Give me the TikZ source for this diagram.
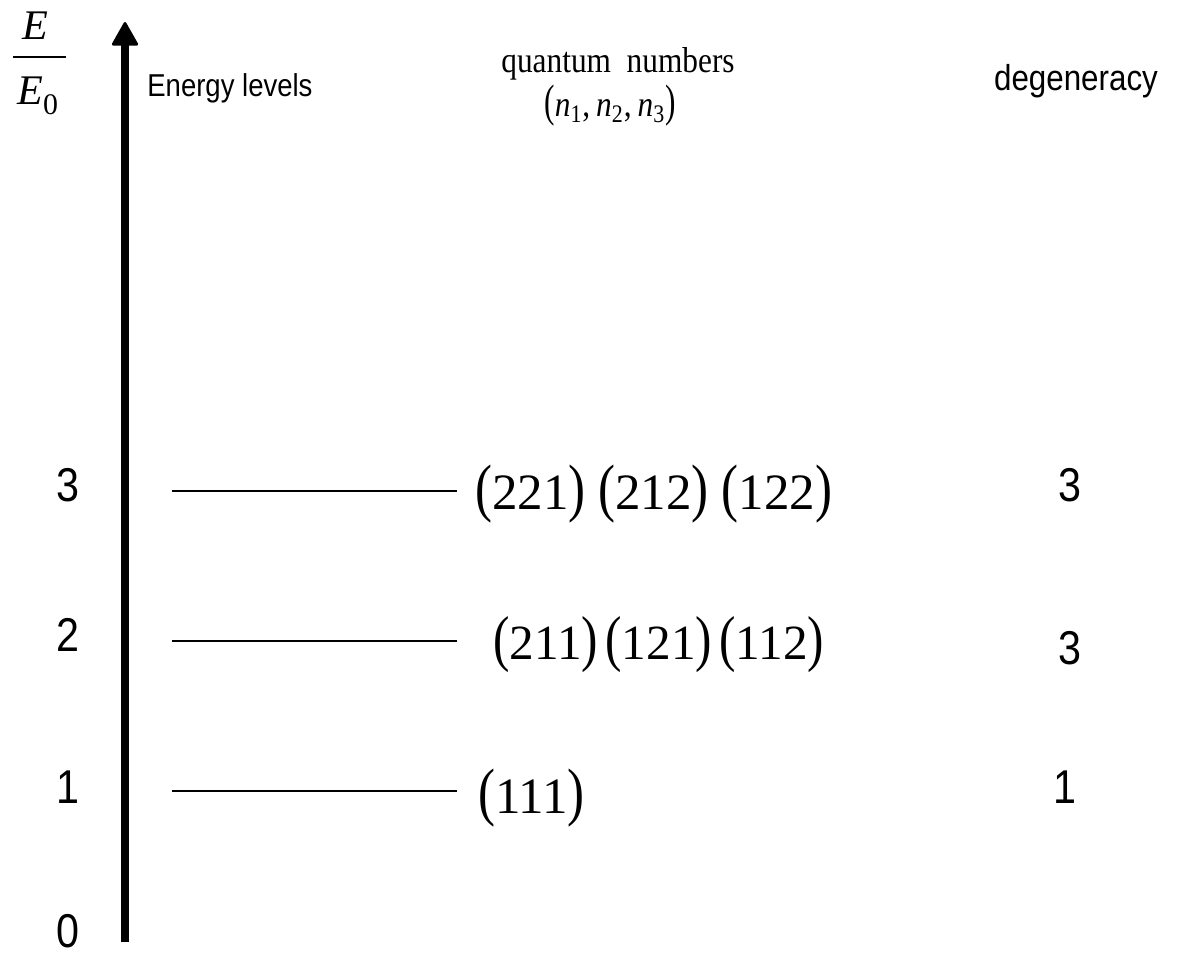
\documentclass[tikz,border=0pt]{standalone}
\usepackage{fontspec}
\setmainfont{Liberation Serif}
\setsansfont{Liberation Sans}
\newfontfamily\tallsans[FakeStretch=0.87]{Liberation Sans}
\newfontfamily\tallserif[FakeStretch=0.87]{Liberation Serif}
\usetikzlibrary{arrows.meta,positioning}
\newcommand{\qnum}[1]{\scalebox{1}[1.26]{(}#1\scalebox{1}[1.26]{)}}

\begin{document}
\begin{tikzpicture}[
    lvl/.style={line width=1.1pt},
    axis/.style={line width=4.6pt,-{Triangle[length=0.5cm,width=0.55cm,round,line width=1.5pt]}},
    num/.style={font=\tallsans\fontsize{27}{30}\selectfont,inner sep=0pt},
    qn/.style={font=\fontsize{29}{34}\selectfont,anchor=base west,inner sep=0pt},
    frac/.style={font=\itshape\fontsize{24}{28}\selectfont,anchor=base west,inner sep=0pt}
]
\useasboundingbox (0,0) rectangle (23.54,19.12);

% vertical energy axis
\coordinate (axbot) at (2.5,0.28);
\coordinate (axtop) at (2.5,18.68);
\draw[axis] (axbot) -- (axtop);

% E / E_0
\node[frac] (enum) at (0.44,18.32) {E};
\node[frac] (eden) at (0.34,17.02) {E{\upshape\fontsize{17}{20}\selectfont\raisebox{-0.2cm}{0}}};
\draw[line width=1.1pt] (0.26,17.98) -- (1.32,17.98);

% headers
\node[font=\tallsans\fontsize{18}{22}\selectfont,anchor=base west,inner sep=0pt] (elev) at (2.94,17.18) {Energy levels};
\node[font=\tallserif\fontsize{20.5}{24}\selectfont,anchor=base,inner sep=0pt] (qhead) at (12.36,17.66) {quantum\ \ numbers};
\node[font=\tallserif\fontsize{20.5}{24}\selectfont,anchor=base,inner sep=0pt] (qtrip) at (12.2,16.78) {\qnum{\textit{n}\textsubscript{1}{,}\,\textit{n}\textsubscript{2}{,}\,\textit{n}\textsubscript{3}}};
\node[font=\tallsans\fontsize{20.5}{24}\selectfont,anchor=base,inner sep=0pt] (degen) at (21.52,17.3) {degeneracy};

% levels
\foreach \k/\y in {0/0.5,1/3.38,2/6.42,3/9.42}
    \node[num] (e\k) at (1.35,\y) {\k};
\foreach \k/\y in {1/3.30,2/6.30,3/9.30} {
    \coordinate (l\k w) at (3.44,\y);
    \coordinate (l\k e) at (9.14,\y);
    \draw[lvl] (l\k w) -- (l\k e);
}

% quantum numbers of each level
\node[qn] (q3) at (9.5,8.92) {\qnum{221} \qnum{212} \qnum{122}};
\node[qn,font=\fontsize{28}{33}\selectfont] (q2) at (9.86,5.92) {\qnum{211}\hspace{0.15em}\qnum{121}\hspace{0.15em}\qnum{112}};
\node[qn] (q1) at (9.56,2.84) {\qnum{111}};

% degeneracy
\node[num] (d3) at (21.4,9.42) {3};
\node[num] (d2) at (21.4,6.16) {3};
\node[num] (d1) at (21.3,3.38) {1};
\end{tikzpicture}
\end{document}
